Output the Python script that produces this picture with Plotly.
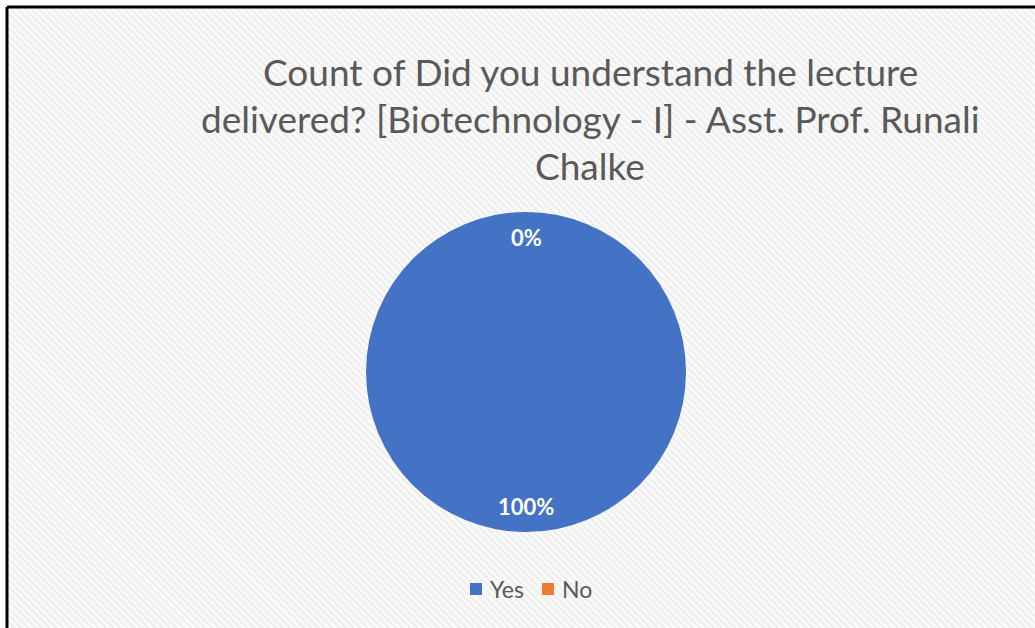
import base64
import math
import plotly.graph_objects as go

# Survey responses
labels = ["Yes", "No"]
counts = [100, 0]
colors = ["#4472C4", "#ED7D31"]

title_lines = [
    "Count of Did you understand the lecture",
    "delivered? [Biotechnology - I] - Asst. Prof. Runali",
    "Chalke",
]

W, H = 1035, 628
FRAME = 7  # frame offset in px

def px_x(x):
    return x / W

def px_y(y):
    return 1 - y / H

# Light diagonal hatch used as the chart area fill
hatch_svg = (
    '<svg xmlns="http://www.w3.org/2000/svg" width="{w}" height="{h}">'
    '<defs><pattern id="p" width="5" height="5" patternUnits="userSpaceOnUse" '
    'patternTransform="rotate(-45)">'
    '<rect width="5" height="5" fill="#fbfbfb"/>'
    '<rect width="2.2" height="5" fill="#eeeeee"/>'
    '</pattern></defs>'
    '<rect width="100%" height="100%" fill="url(#p)"/></svg>'
).format(w=W - FRAME, h=H - FRAME)
hatch_uri = "data:image/svg+xml;base64," + base64.b64encode(hatch_svg.encode()).decode()

cx, cy, r = 526, 372, 160

fig = go.Figure(
    go.Pie(
        labels=labels,
        values=counts,
        marker=dict(colors=colors, line=dict(width=0)),
        sort=False,
        direction="clockwise",
        rotation=0,
        textinfo="none",
        hoverinfo="label+percent",
        showlegend=False,
        domain=dict(x=[px_x(cx - r), px_x(cx + r)], y=[px_y(cy + r), px_y(cy - r)]),
    )
)

font_family = "Lato, Open Sans, sans-serif"

# Percentage labels at the middle of each slice (inside end)
total = sum(counts)
start = 0.0
annotations = []
for lab, v in zip(labels, counts):
    frac = v / total
    mid = (start + frac / 2) * 2 * math.pi
    start += frac
    dist = 0.84 * r
    lx = cx + dist * math.sin(mid)
    ly = cy - dist * math.cos(mid)
    annotations.append(dict(
        x=px_x(lx), y=px_y(ly), xref="paper", yref="paper",
        text="<b>{:.0f}%</b>".format(frac * 100), showarrow=False,
        font=dict(family=font_family, size=22, color="#ffffff"),
        xanchor="center", yanchor="middle",
    ))

# Title lines
for line, y in zip(title_lines, [72, 118, 165]):
    annotations.append(dict(
        x=px_x(590), y=px_y(y), xref="paper", yref="paper",
        text=line, showarrow=False,
        font=dict(family=font_family, size=37, color="#595959"),
        xanchor="center", yanchor="middle",
    ))

shapes = [
    dict(type="line", xref="paper", yref="paper",
         x0=px_x(FRAME), x1=1.01, y0=px_y(FRAME), y1=px_y(FRAME),
         line=dict(color="#000000", width=3)),
    dict(type="line", xref="paper", yref="paper",
         x0=px_x(FRAME), x1=px_x(FRAME), y0=px_y(FRAME), y1=-0.01,
         line=dict(color="#000000", width=3)),
]

# Compact bottom legend: colour square followed by the category name
legend_y = 589
legend_x = [470, 542]
for lab, col, lx0 in zip(labels, colors, legend_x):
    shapes.append(dict(
        type="rect", xref="paper", yref="paper",
        x0=px_x(lx0), x1=px_x(lx0 + 12),
        y0=px_y(legend_y + 6), y1=px_y(legend_y - 6),
        fillcolor=col, line=dict(width=0),
    ))
    annotations.append(dict(
        x=px_x(lx0 + 18), y=px_y(legend_y), xref="paper", yref="paper",
        text=lab, showarrow=False,
        font=dict(family=font_family, size=23, color="#595959"),
        xanchor="left", yanchor="middle",
    ))

fig.update_layout(
    width=W, height=H,
    margin=dict(l=0, r=0, t=0, b=0),
    paper_bgcolor="#ffffff",
    annotations=annotations,
    images=[dict(
        source=hatch_uri, xref="paper", yref="paper",
        x=px_x(FRAME), y=px_y(FRAME), sizex=1 - px_x(FRAME), sizey=px_y(FRAME),
        xanchor="left", yanchor="top", sizing="stretch", layer="below",
    )],
    shapes=shapes,
    showlegend=False,
)

fig.write_html("out.html")
